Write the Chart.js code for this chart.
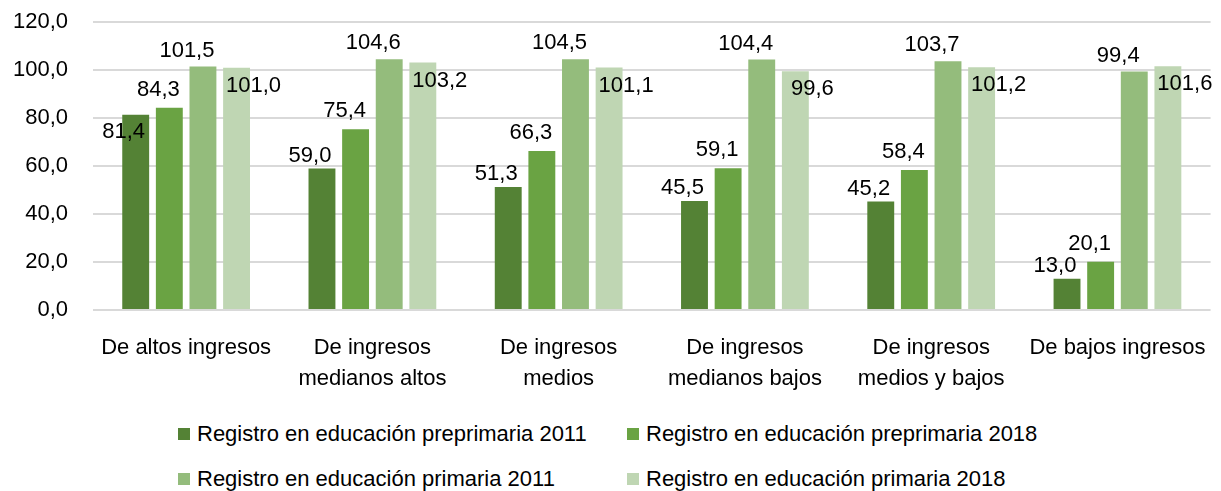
<!DOCTYPE html>
<html>
<head>
<meta charset="utf-8">
<script src="https://cdn.jsdelivr.net/npm/chart.js@4.4.1/dist/chart.umd.min.js"></script>
<style>
  body { margin: 0; background: #fff; }
  #wrap { position: relative; width: 1221px; height: 491px; overflow: hidden; font-family: "Liberation Sans", Arial, sans-serif; }
  #chart { position: absolute; left: 0; top: -16px; }
  #legend { position: absolute; left: 178px; top: 411px; display: grid; grid-template-columns: 449px auto; row-gap: 0; }
  .item { display: flex; align-items: center; height: 45px; font-size: 22px; color: #000; white-space: nowrap; }
  .box { width: 12px; height: 12px; margin-right: 7px; }
</style>
</head>
<body>
<div id="wrap">
  <canvas id="chart" width="1221" height="426"></canvas>
  <div id="legend"></div>
</div>
<script>
const categories = [
  "De altos ingresos",
  ["De ingresos", "medianos altos"],
  ["De ingresos", "medios"],
  ["De ingresos", "medianos bajos"],
  ["De ingresos", "medios y bajos"],
  "De bajos ingresos"
];
const seriesNames = [
  "Registro en educación preprimaria 2011",
  "Registro en educación preprimaria 2018",
  "Registro en educación primaria 2011",
  "Registro en educación primaria 2018"
];
const preprimaria2011 = [81.4, 59.0, 51.3, 45.5, 45.2, 13.0];
const preprimaria2018 = [84.3, 75.4, 66.3, 59.1, 58.4, 20.1];
const primaria2011 = [101.5, 104.6, 104.5, 104.4, 103.7, 99.4];
const primaria2018 = [101.0, 103.2, 101.1, 99.6, 101.2, 101.6];
const yTicks = [0, 20, 40, 60, 80, 100, 120];

const colors = ["#548235", "#6aa343", "#94bc7c", "#bfd6b3"];
const FONT = "Liberation Sans, Arial, sans-serif";
const fmt = (v) => v.toFixed(1).replace(".", ",");

// label offsets relative to the top of each bar, similar to the Excel layout
const labelOffsets = [
  { dx: -12, dy: -13 },
  { dx: -11, dy: -18 },
  { dx: -16, dy: -16 },
  { dx: 17, dy: 18 }
];

const valueLabels = {
  id: "valueLabels",
  afterDatasetsDraw(chart) {
    const ctx = chart.ctx;
    ctx.save();
    ctx.font = "22px " + FONT;
    ctx.fillStyle = "#000";
    ctx.textAlign = "center";
    ctx.textBaseline = "middle";
    const metas = chart.data.datasets.map((d, i) => chart.getDatasetMeta(i));
    metas.forEach((meta, di) => {
      meta.data.forEach((bar, i) => {
        const val = chart.data.datasets[di].data[i];
        const txt = fmt(val);
        let x = bar.x + labelOffsets[di].dx;
        let y = bar.y + labelOffsets[di].dy;
        if (di === 0) {
          // move under the bar top when it would collide with the next label
          const nb = metas[1].data[i];
          const nx = nb.x + labelOffsets[1].dx;
          const ny = nb.y + labelOffsets[1].dy;
          const w = ctx.measureText(txt).width;
          const w2 = ctx.measureText(fmt(chart.data.datasets[1].data[i])).width;
          if (Math.abs(x - nx) < (w + w2) / 2 && Math.abs(y - ny) < 18) {
            y = bar.y + 17;
          }
        }
        ctx.fillText(txt, x, y);
      });
    });
    ctx.restore();
  }
};

const datasets = [preprimaria2011, preprimaria2018, primaria2011, primaria2018].map((data, i) => ({
  label: seriesNames[i],
  data: data,
  backgroundColor: colors[i],
  borderWidth: 0,
  categoryPercentage: 0.722,
  barPercentage: 0.8
}));

new Chart(document.getElementById("chart").getContext("2d"), {
  type: "bar",
  data: { labels: categories, datasets: datasets },
  options: {
    responsive: false,
    animation: false,
    layout: { autoPadding: false, padding: { left: 11, right: 6, top: 6, bottom: 17 } },
    plugins: {
      legend: { display: false },
      tooltip: { enabled: false }
    },
    scales: {
      x: {
        grid: { display: false },
        border: { display: false },
        afterFit: (axis) => { axis.height = 83; },
        ticks: {
          color: "#000",
          padding: 15,
          maxRotation: 0,
          autoSkip: false,
          font: { family: FONT, size: 22, lineHeight: 1.38 }
        }
      },
      y: {
        min: 0,
        max: 120,
        afterBuildTicks: (axis) => { axis.ticks = yTicks.map((v) => ({ value: v })); },
        afterFit: (axis) => { axis.width = 82; },
        grid: { color: "#d9d9d9", lineWidth: 2, drawTicks: false },
        border: { display: false },
        ticks: {
          color: "#000",
          padding: 25,
          font: { family: FONT, size: 22 },
          callback: (v) => fmt(v)
        }
      }
    }
  },
  plugins: [valueLabels]
});

const legend = document.getElementById("legend");
seriesNames.forEach((name, i) => {
  const item = document.createElement("div");
  item.className = "item";
  item.innerHTML = `<span class="box" style="background:${colors[i]}"></span>${name}`;
  legend.appendChild(item);
});
</script>
</body>
</html>
